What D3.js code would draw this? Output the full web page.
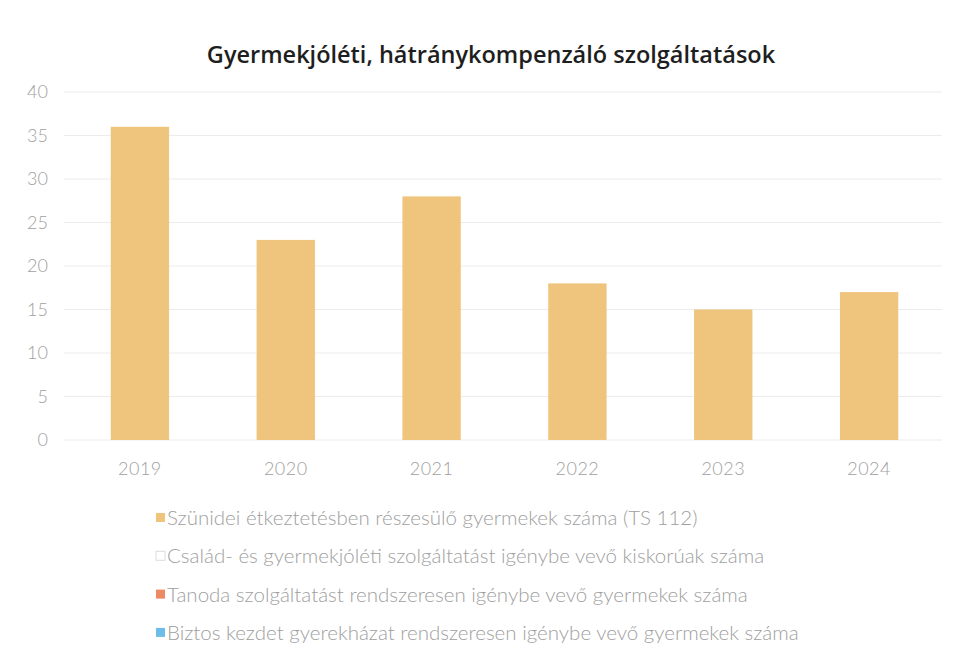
<!DOCTYPE html>
<html>
<head>
<meta charset="utf-8">
<script src="https://cdn.jsdelivr.net/npm/d3@7/dist/d3.min.js"></script>
<style>
  html, body { margin: 0; padding: 0; background: #ffffff; }
  svg { display: block; }
</style>
</head>
<body>
<svg id="chart" width="957" height="654"></svg>
<script>
const title = "Gyermekjóléti, hátránykompenzáló szolgáltatások";
const years = ["2019", "2020", "2021", "2022", "2023", "2024"];
const mealValues = [36, 23, 28, 18, 15, 17];
const yTicks = [0, 5, 10, 15, 20, 25, 30, 35, 40];
const seriesNames = [
  "Szünidei étkeztetésben részesülő gyermekek száma (TS 112)",
  "Család- és gyermekjóléti szolgáltatást igénybe vevő kiskorúak száma",
  "Tanoda szolgáltatást rendszeresen igénybe vevő gyermekek száma",
  "Biztos kezdet gyerekházat rendszeresen igénybe vevő gyermekek száma"
];
const seriesColors = ["#efc47c", "#ffffff", "#ec8a63", "#6cbde8"];

const svg = d3.select("#chart");
const W = 957, H = 654;
svg.append("rect").attr("width", W).attr("height", H).attr("fill", "#ffffff");

const x = d3.scaleBand().domain(years).range([67, 942]).paddingInner(0.6).paddingOuter(0.3);
const y = d3.scaleLinear().domain([0, 40]).range([440, 92]);

// gridlines
svg.append("g").selectAll("line").data(yTicks).join("line")
  .attr("x1", 64).attr("x2", 942)
  .attr("y1", d => y(d)).attr("y2", d => y(d))
  .attr("stroke", "#ececec").attr("stroke-width", 1);

// y axis
const yAxis = svg.append("g").attr("transform", "translate(48,0)")
  .call(d3.axisLeft(y).tickValues(yTicks).tickSize(0).tickPadding(0));
yAxis.select(".domain").remove();
yAxis.selectAll("text")
  .attr("font-family", "Lato, 'Open Sans', sans-serif")
  .attr("font-size", 18).attr("fill", "#a0a0a0").attr("font-weight", 300);

// bars
svg.append("g").selectAll("rect").data(years).join("rect")
  .attr("x", d => x(d))
  .attr("width", x.bandwidth())
  .attr("y", (d, i) => y(mealValues[i]))
  .attr("height", (d, i) => y(0) - y(mealValues[i]))
  .attr("fill", seriesColors[0]);

// x axis
const xAxis = svg.append("g").attr("transform", "translate(0,462)")
  .call(d3.axisBottom(x).tickSize(0).tickPadding(0));
xAxis.select(".domain").remove();
xAxis.selectAll("text")
  .attr("font-family", "Lato, 'Open Sans', sans-serif")
  .attr("font-size", 18).attr("fill", "#a0a0a0").attr("font-weight", 300)
  .attr("letter-spacing", "0.5px");

// title
svg.append("text").attr("x", 491).attr("y", 63).attr("text-anchor", "middle")
  .attr("font-family", "'Open Sans', sans-serif").attr("font-weight", 600)
  .attr("font-size", 23.5).attr("fill", "#1e1e1e").text(title);

// legend
const leg = svg.append("g").selectAll("g").data(seriesNames).join("g")
  .attr("transform", (d, i) => `translate(156, ${518 + i * 38.3})`);
leg.append("rect").attr("x", 0).attr("y", -5).attr("width", 9).attr("height", 9)
  .attr("fill", (d, i) => seriesColors[i])
  .attr("stroke", (d, i) => i === 1 ? "#dddddd" : "none");
leg.append("text").attr("x", 11).attr("y", 0).attr("dy", "0.35em")
  .attr("font-family", "Lato, 'Open Sans', sans-serif").attr("font-weight", 300)
  .attr("font-size", 20.5).attr("fill", "#a0a0a0").text(d => d);
</script>
</body>
</html>
